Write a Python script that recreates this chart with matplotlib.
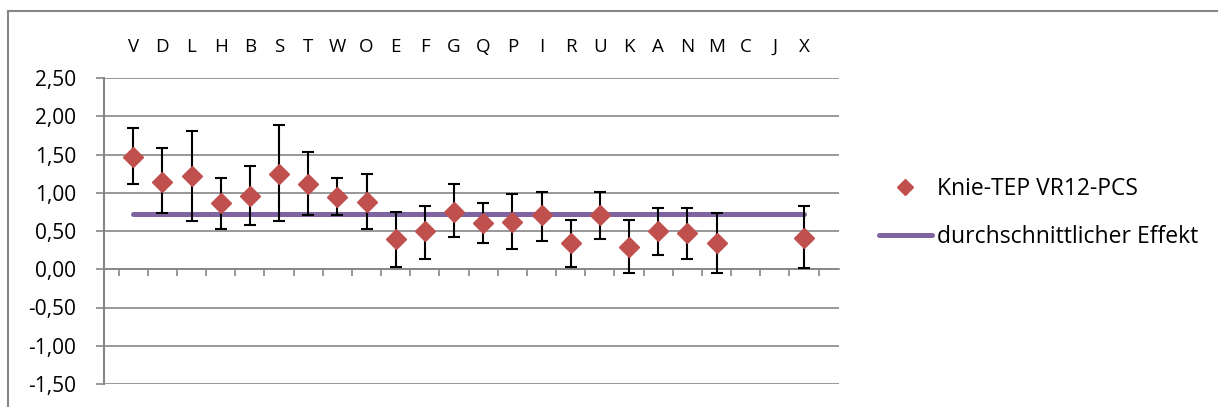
import matplotlib
matplotlib.use("Agg")
import matplotlib.pyplot as plt
from matplotlib.patches import Rectangle
from matplotlib.lines import Line2D
import numpy as np

categories = ["V", "D", "L", "H", "B", "S", "T", "W", "O", "E", "F", "G",
              "Q", "P", "I", "R", "U", "K", "A", "N", "M", "C", "J", "X"]
values = [1.47, 1.14, 1.22, 0.86, 0.96, 1.24, 1.12, 0.94, 0.88, 0.39, 0.50, 0.75,
          0.60, 0.62, 0.71, 0.34, 0.71, 0.29, 0.50, 0.47, 0.34, None, None, 0.41]
upper = [1.84, 1.58, 1.81, 1.19, 1.35, 1.89, 1.53, 1.19, 1.25, 0.75, 0.83, 1.12,
         0.86, 0.99, 1.01, 0.65, 1.01, 0.65, 0.80, 0.80, 0.73, None, None, 0.83]
lower = [1.12, 0.73, 0.63, 0.52, 0.58, 0.63, 0.71, 0.71, 0.52, 0.03, 0.14, 0.42,
         0.34, 0.26, 0.37, 0.03, 0.39, -0.05, 0.18, 0.14, -0.05, None, None, 0.01]
avg_effect = 0.72
yticks = [-1.5, -1.0, -0.5, 0.0, 0.5, 1.0, 1.5, 2.0, 2.5]
series_label = "Knie-TEP VR12-PCS"
avg_label = "durchschnittlicher Effekt"

FONT = ["Open Sans", "DejaVu Sans"]
plt.rcParams["font.family"] = FONT

W, H = 1218, 407
fig = plt.figure(figsize=(W / 100, H / 100), dpi=100)

# outer chart frame
fig.patches.append(Rectangle((8 / W, -0.2), 1.2, 1.2 - 11 / H,
                             transform=fig.transFigure, fill=False,
                             edgecolor="#868686", linewidth=1.5, clip_on=False))

ax = fig.add_axes([104 / W, (H - 384) / H, (839 - 104) / W, (384 - 78) / H])
grey = "#868686"

x = np.arange(1, len(categories) + 1)
idx = [i for i, v in enumerate(values) if v is not None]
xv = x[idx]
yv = np.array([values[i] for i in idx])
yerr = np.array([[values[i] - lower[i] for i in idx],
                 [upper[i] - values[i] for i in idx]])

# average line
ax.plot([x[0], x[-1]], [avg_effect, avg_effect], color="#8064A2", lw=3.6,
        solid_capstyle="round", zorder=2)

ax.errorbar(xv, yv, yerr=yerr, fmt="none", ecolor="black", elinewidth=1.5,
            capsize=4.3, capthick=1.5, zorder=3)
ax.plot(xv, yv, linestyle="none", marker="D", markersize=10.5,
        color="#C0504D", markeredgecolor="#C0504D", zorder=4)

ax.set_xlim(0, 25.2)
ax.set_ylim(-1.5, 2.5)
ax.set_yticks(yticks)
ax.set_yticklabels([f"{t:.2f}".replace(".", ",") for t in yticks])
ax.yaxis.grid(True, color=grey, lw=1.2)
ax.set_axisbelow(True)
ax.tick_params(axis="y", length=6, width=1.2, color=grey, pad=14,
               labelsize=15, labelcolor="black")

for s in ["top", "right"]:
    ax.spines[s].set_visible(False)
ax.spines["left"].set_color(grey)
ax.spines["left"].set_linewidth(1.5)
ax.spines["bottom"].set_position(("data", 0))
ax.spines["bottom"].set_color(grey)
ax.spines["bottom"].set_linewidth(1.2)

ax.set_xticks(np.arange(0.5, len(categories) + 0.6, 1.0))
ax.tick_params(axis="x", direction="out", length=5, width=1.2, color=grey,
               labelbottom=False)

top = ax.secondary_xaxis("top")
top.set_xticks(x)
top.set_xticklabels(categories)
top.tick_params(length=0, pad=16, labelsize=13.5)
top.spines["top"].set_visible(False)

handles = [Line2D([], [], linestyle="none", marker="D", markersize=8,
                  color="#C0504D"),
           Line2D([], [], color="#8064A2", lw=3.6, solid_capstyle="round")]
fig.legend(handles, [series_label, avg_label], loc="center left",
           bbox_to_anchor=(879 / W, 1 - 213 / H), frameon=False,
           fontsize=16.5, handlelength=2.3, handletextpad=0.25,
           labelspacing=1.05, borderpad=0, borderaxespad=0)

fig.savefig("out.png", dpi=100)
